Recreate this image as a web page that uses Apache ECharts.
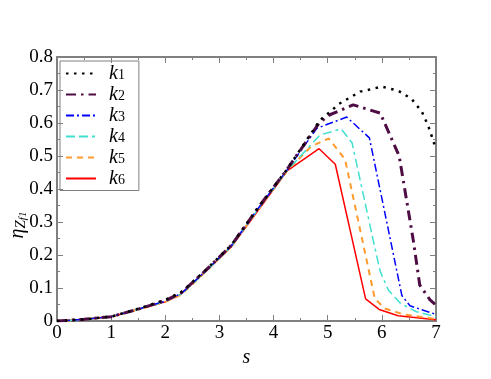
<!DOCTYPE html>
<html>
<head>
<meta charset="utf-8">
<script src="https://cdn.jsdelivr.net/npm/echarts@6/dist/echarts.min.js"></script>
<style>
  html, body { margin: 0; padding: 0; background: #fff; }
  #chart { width: 491px; height: 379px; }
</style>
</head>
<body>
<div id="chart"></div>
<script>
// series names
const seriesNames = ['k1', 'k2', 'k3', 'k4', 'k5', 'k6'];

// [s, eta] points
const k1Points = [[0, 0], [0.5, 0.005], [1, 0.013], [1.5, 0.037], [2, 0.064], [2.3, 0.088], [2.75, 0.155], [3.22, 0.23], [3.7, 0.34], [4.25, 0.46], [4.86, 0.609], [5.08, 0.639], [5.2, 0.657], [5.44, 0.68], [5.6, 0.695], [6.0, 0.71], [6.3, 0.698], [6.55, 0.673], [6.74, 0.634], [6.86, 0.59], [6.95, 0.546], [7, 0.52]];
const k2Points = [[0, 0], [0.5, 0.005], [1, 0.013], [1.5, 0.036], [2, 0.062], [2.3, 0.086], [2.75, 0.154], [3.22, 0.229], [3.7, 0.34], [4.25, 0.46], [4.84, 0.6], [5.04, 0.625], [5.47, 0.655], [5.97, 0.63], [6.32, 0.5], [6.58, 0.245], [6.7, 0.109], [6.89, 0.064], [7, 0.048]];
const k3Points = [[0, 0], [0.5, 0.005], [1, 0.013], [1.5, 0.036], [2, 0.06], [2.3, 0.084], [2.75, 0.152], [3.22, 0.228], [3.7, 0.338], [4.25, 0.458], [4.8, 0.584], [5.35, 0.618], [5.77, 0.555], [6.37, 0.077], [6.52, 0.046], [7, 0.02]];
const k4Points = [[0, 0], [0.5, 0.005], [1, 0.013], [1.5, 0.035], [2, 0.059], [2.3, 0.082], [2.75, 0.15], [3.22, 0.226], [3.7, 0.336], [4.25, 0.456], [4.86, 0.564], [5.25, 0.582], [5.45, 0.54], [5.84, 0.245], [5.97, 0.15], [6.12, 0.094], [6.34, 0.054], [6.64, 0.028], [7, 0.013]];
const k5Points = [[0, 0], [0.5, 0.005], [1, 0.013], [1.5, 0.035], [2, 0.058], [2.3, 0.08], [2.75, 0.15], [3.22, 0.226], [3.7, 0.335], [4.25, 0.455], [4.7, 0.53], [5.02, 0.553], [5.32, 0.49], [5.87, 0.068], [6.05, 0.038], [6.4, 0.02], [7, 0.006]];
const k6Points = [[0, 0], [0.5, 0.005], [1, 0.013], [1.5, 0.035], [2, 0.058], [2.25, 0.077], [2.75, 0.15], [3.22, 0.225], [3.7, 0.332], [4.25, 0.455], [4.84, 0.522], [5.14, 0.475], [5.7, 0.067], [5.95, 0.035], [6.3, 0.016], [7, 0.004]];

// axis ranges
const xMin = 0, xMax = 7, xStep = 1;
const yMin = 0, yMax = 0.8, yStep = 0.1;

const serif = '"Liberation Serif", "Times New Roman", serif';
const frameColor = '#808080';

const chart = echarts.init(document.getElementById('chart'));

// frame axis: ticks inside, optional labels
function frameAxis(extra) {
  return Object.assign({
    type: 'value',
    axisLine: { show: true, onZero: false, lineStyle: { color: frameColor, width: 2 } },
    axisTick: { show: true, inside: true, length: 6, lineStyle: { color: frameColor, width: 1 } },
    minorTick: { show: true, splitNumber: 2, length: 3, lineStyle: { color: frameColor, width: 1 } },
    splitLine: { show: false },
  }, extra);
}

const lineStyles = [
  { color: '#000000', width: 2.5, type: [2.5, 5.5] },
  { color: '#4e0c44', width: 3, type: [10, 5, 2.5, 5] },
  { color: '#0000ff', width: 1.5, type: [8, 3, 2, 3] },
  { color: '#40e0d0', width: 1.5, type: [9, 4, 9, 4, 3, 4] },
  { color: '#ff9a2e', width: 2, type: [6, 5] },
  { color: '#ff0000', width: 1.5, type: 'solid' },
];
const pointSets = [k1Points, k2Points, k3Points, k4Points, k5Points, k6Points];

const option = {
  backgroundColor: '#ffffff',
  animation: false,
  grid: { left: 57, right: 55, top: 57, bottom: 58, containLabel: false, outerBoundsMode: 'none' },
  legend: {
    orient: 'vertical',
    left: 60,
    top: 61,
    padding: [2, 14, 2, 5],
    itemGap: 0.5,
    itemWidth: 30,
    itemHeight: 10,
    borderColor: '#808080',
    borderWidth: 1,
    itemStyle: { opacity: 0 },
    data: seriesNames,
    formatter: (name) => '{k|k}{s|' + name.slice(1) + '}',
    textStyle: {
      fontFamily: serif,
      color: '#000',
      rich: {
        k: { fontFamily: serif, fontStyle: 'italic', fontSize: 20, lineHeight: 17, padding: [0, 0, 0, 8] },
        s: { fontFamily: serif, fontSize: 14, lineHeight: 12, verticalAlign: 'bottom', padding: [5, 0, 0, 0] },
      },
    },
  },
  xAxis: [
    frameAxis({
      min: xMin, max: xMax, interval: xStep, position: 'bottom',
      name: 's', nameLocation: 'middle', nameGap: 27,
      nameTextStyle: { fontFamily: serif, fontStyle: 'italic', fontSize: 20, color: '#000' },
      axisLabel: { fontFamily: serif, fontSize: 19, color: '#000', margin: 3 },
    }),
    frameAxis({ min: xMin, max: xMax, interval: xStep, position: 'top', axisLabel: { show: false } }),
  ],
  yAxis: [
    frameAxis({
      min: yMin, max: yMax, interval: yStep, position: 'left',
      name: '{e|η}{z|Z}{f|f1}', nameLocation: 'middle', nameGap: 28, nameRotate: 90,
      nameMoveOverlap: false,
      nameTextStyle: {
        color: '#000',
        padding: [0, 72, 0, 0],
        rich: {
          e: { fontFamily: serif, fontStyle: 'italic', fontSize: 20, lineHeight: 22, color: '#000' },
          z: { fontFamily: serif, fontStyle: 'italic', fontSize: 15, lineHeight: 22, verticalAlign: 'bottom', padding: [8, 0, 0, 0], color: '#000' },
          f: { fontFamily: serif, fontStyle: 'italic', fontSize: 11, lineHeight: 22, verticalAlign: 'bottom', padding: [13, 0, 0, 0], color: '#000' },
        },
      },
      axisLabel: { fontFamily: serif, fontSize: 19, color: '#000', margin: 4, formatter: (v) => String(Math.round(v * 10) / 10) },
    }),
    frameAxis({ min: yMin, max: yMax, interval: yStep, position: 'right', axisLabel: { show: false } }),
  ],
  series: seriesNames.map((name, i) => ({
    name: name,
    type: 'line',
    xAxisIndex: 0,
    yAxisIndex: 0,
    symbol: 'none',
    smooth: false,
    lineStyle: lineStyles[i],
    itemStyle: { color: lineStyles[i].color },
    data: pointSets[i],
    z: 10 - i,
  })),
};

chart.setOption(option);
</script>
</body>
</html>
